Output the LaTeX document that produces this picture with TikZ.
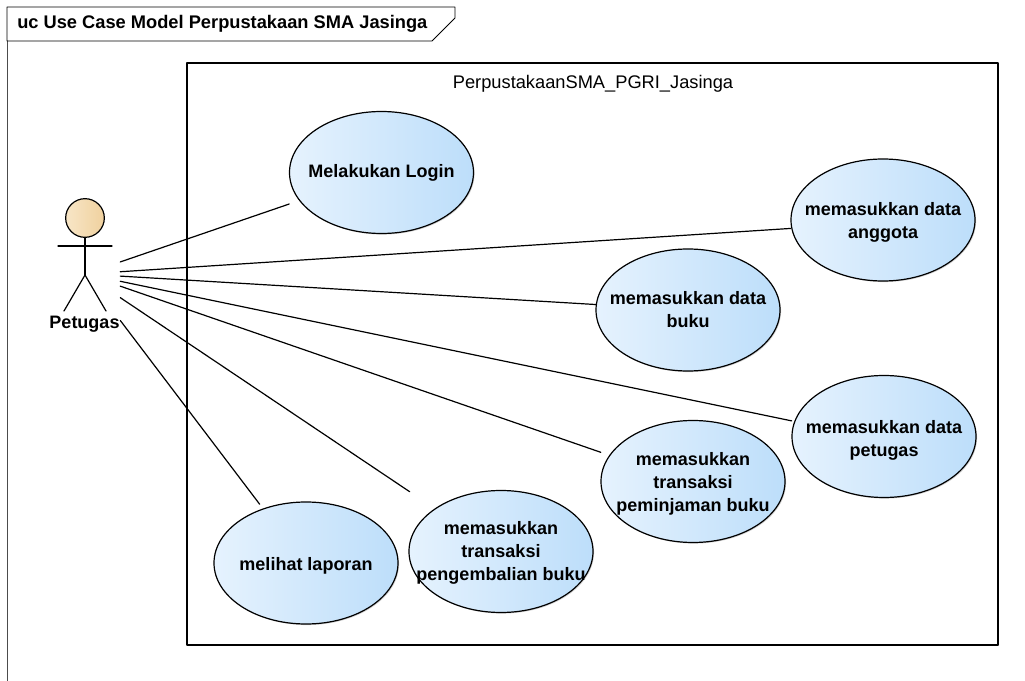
\documentclass[tikz,border=0pt]{standalone}
\usepackage{fontspec}
\setmainfont{Liberation Sans}
\usetikzlibrary{shapes.geometric,shadows}
\definecolor{ucleft}{rgb}{0.90,0.95,0.995}
\definecolor{ucright}{rgb}{0.74,0.87,0.98}
\definecolor{headleft}{rgb}{0.97,0.90,0.78}
\definecolor{headright}{rgb}{0.94,0.82,0.62}
\tikzset{
  ucfont/.style={font=\fontsize{13.5}{17.2}\selectfont\bfseries},
  usecase/.style={ellipse,draw=black,line width=0.9pt,inner sep=0pt,
    left color=ucleft,right color=ucright,minimum width=138pt,minimum height=91.5pt,
    drop shadow={shadow xshift=0.8pt,shadow yshift=-0.8pt,opacity=0.35,fill=gray}},
  ucbox/.style={rectangle,inner sep=0pt,align=center,ucfont,minimum width=138pt,minimum height=91.5pt},
  assoc/.style={line width=0.9pt}
}
\begin{document}
\begin{tikzpicture}[line cap=round,line join=round,x=0.75pt,y=-0.75pt]
\useasboundingbox (0,0) rectangle (1025,681);
\fill[white] (0,0) rectangle (1025,681);
% frame
\draw[line width=0.6pt,color=black!70] (7,681) -- (7,41);
\draw[line width=0.7pt] (7,41) -- (7,7) -- (455,7) -- (455,18) -- (432,41) -- cycle;
\node[anchor=west,inner sep=0pt,font=\fontsize{13.7}{15}\selectfont\bfseries] (frametitle) at (17,24) {uc Use Case Model Perpustakaan SMA Jasinga};
% system
\draw[line width=0.9pt,fill=white,drop shadow={shadow xshift=0.8pt,shadow yshift=-0.8pt,opacity=0.35,fill=gray}] (187,63) rectangle (998,645);
\node[font=\fontsize{13.7}{15}\selectfont] (sysname) at (593,84) {PerpustakaanSMA\_PGRI\_Jasinga};
% actor
\node[rectangle,inner sep=0pt,minimum width=52.5pt,minimum height=90pt] (petugas) at (85,274) {};
\draw[line width=0.9pt,left color=headleft,right color=headright] (85,218) circle (14.5pt);
\draw[line width=0.9pt] (58,246) -- (112,246);
\draw[line width=0.9pt] (85,238) -- (85,275);
\draw[line width=0.9pt] (64,311) -- (85,275) -- (106,311);
\node[ucfont] (petugaslabel) at (84.5,324) {Petugas};
% use cases
\node[usecase] (login) at (381.5,172.5) {};
\node[ucbox] (loginbox) at (381.5,172.5) {Melakukan Login};
\node[usecase] (anggota) at (883,220) {};
\node[ucbox] (anggotabox) at (883,222.5) {memasukkan data\\anggota};
\node[usecase] (buku) at (688,310) {};
\node[ucbox] (bukubox) at (688,310) {memasukkan data\\buku};
\node[usecase] (petugasdata) at (884,436.5) {};
\node[ucbox] (petugasbox) at (884,440) {memasukkan data\\petugas};
\node[usecase] (pinjam) at (693,481.5) {};
\node[ucbox] (pinjambox) at (693,484) {memasukkan\\transaksi\\peminjaman buku};
\node[usecase] (kembali) at (501,551.5) {};
\node[ucbox] (kembalibox) at (501,553) {memasukkan\\transaksi\\pengembalian buku};
\node[usecase] (laporan) at (306,563) {};
\node[ucbox] (laporanbox) at (306,565.5) {melihat laporan};
% associations
\foreach \b in {loginbox,anggotabox,bukubox,petugasbox,pinjambox,kembalibox,laporanbox}
\draw[assoc] (petugas) -- (\b);
\end{tikzpicture}
\end{document}
